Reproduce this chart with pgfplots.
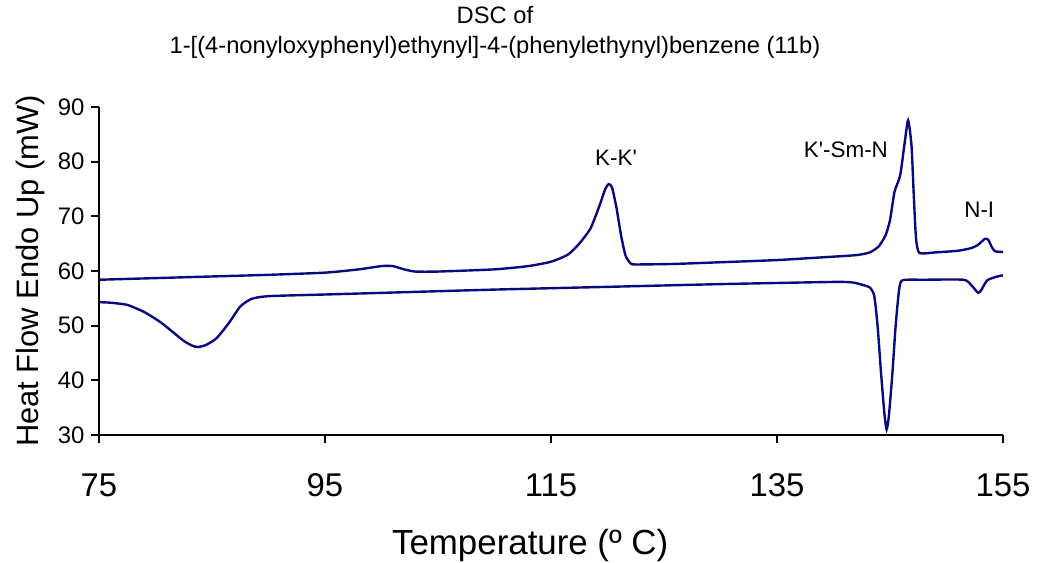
\documentclass[border=0pt]{standalone}
\usepackage{pgfplots}
\pgfplotsset{compat=1.18}
\usepackage{fontspec}
\setmainfont{Liberation Sans}
\definecolor{curve}{RGB}{10,10,128}

\begin{document}
\begin{tikzpicture}
  \begin{axis}[
      scale only axis,
      width=904bp, height=328bp,
      xmin=75, xmax=155,
      ymin=30, ymax=90,
      axis lines*=left,
      axis line style={line width=2bp, -},
      xtick={75,95,...,155},
      ytick={30,40,...,90},
      tick align=outside,
      major tick length=8bp,
      tick style={black, line width=2bp},
      /pgf/number format/assume math mode=true,
      xticklabel style={font=\fontsize{33}{36}\selectfont, yshift=-27bp},
      yticklabel style={font=\fontsize{24}{26}\selectfont, xshift=-3bp},
      xlabel={Temperature (º C)},
      xlabel style={font=\fontsize{35}{38}\selectfont, at={(axis description cs:0.477,-0.286)}, anchor=north, inner sep=0pt},
      ylabel={Heat Flow Endo Up (mW)},
      ylabel style={font=\fontsize{31}{34}\selectfont, at={(axis description cs:-0.06,0.5)}, anchor=south, inner sep=0pt},
      title={DSC of\\1-[(4-nonyloxyphenyl)ethynyl]-4-(phenylethynyl)benzene (11b)},
      title style={font=\fontsize{23.8}{31}\selectfont, align=center, at={(axis description cs:0.438,1.128)}, anchor=south, inner sep=0pt},
      clip=false,
    ]
    % heating run
    \addplot[curve, line width=2.4bp, smooth, tension=0.35] coordinates {
      (75,58.4) (80,58.7) (85,59.0) (90,59.3) (95,59.7) (98,60.3)
      (100,60.9) (101,60.9) (102,60.3) (103,59.9) (105,59.9) (110,60.3)
      (113,60.9) (115,61.7) (116.5,63.0) (117.5,65.0) (118.5,67.8)
      (119.3,72.0) (119.8,75.0) (120.1,75.9) (120.4,75.3) (120.8,71.5)
      (121.2,66.5) (121.6,62.8) (122.1,61.3) (123,61.2) (126,61.3)
      (130,61.6) (135,62.0) (139,62.5) (142,62.9) (143.2,63.4) (144,64.5)
      (144.6,66.5) (145.0,69.3) (145.4,74.5) (145.9,77.5) (146.3,83.5)
      (146.6,87.6) (146.9,83.0) (147.1,74.0) (147.3,66.0) (147.6,63.3)
      (149,63.4) (151,63.7) (152.2,64.2) (152.8,64.8) (153.4,65.9)
      (153.7,65.7) (154.0,64.4) (154.3,63.6) (155,63.5)
    };
    % cooling run
    \addplot[curve, line width=2.4bp, smooth, tension=0.35] coordinates {
      (75,54.3) (76,54.2) (77.5,53.8) (79,52.5) (80.4,50.7) (81.5,48.9)
      (82.5,47.2) (83.3,46.3) (83.8,46.1) (84.5,46.5) (85.4,47.7)
      (86.5,50.5) (87.5,53.5) (88.5,54.9) (90,55.4) (95,55.7) (100,56.0)
      (110,56.6) (120,57.1) (130,57.6) (140,58.0) (141.7,57.9) (142.5,57.5)
      (143.2,57.0) (143.6,55.5) (143.9,50.0) (144.2,41.5) (144.5,34.0)
      (144.7,31.0) (144.9,33.5) (145.2,41.0) (145.5,50.0) (145.8,56.5)
      (146.1,58.3) (148,58.4) (151.5,58.4) (152.2,57.4) (152.8,56.0)
      (153.1,56.6) (153.6,58.3) (154.5,59.0) (155,59.2)
    };
    \node[font=\fontsize{22.5}{26}\selectfont] at (axis cs:120.75,80.7) {K-K\textquotesingle};
    \node[font=\fontsize{22.5}{26}\selectfont] at (axis cs:141.1,82.1) {K\textquotesingle-Sm-N};
    \node[font=\fontsize{22.5}{26}\selectfont] at (axis cs:152.9,71.2) {N-I};
    % page frame matching the reference margins
    \path (rel axis cs:-0.1095,-0.3902) (rel axis cs:1.0376,1.3262);
  \end{axis}
\end{tikzpicture}
\end{document}
